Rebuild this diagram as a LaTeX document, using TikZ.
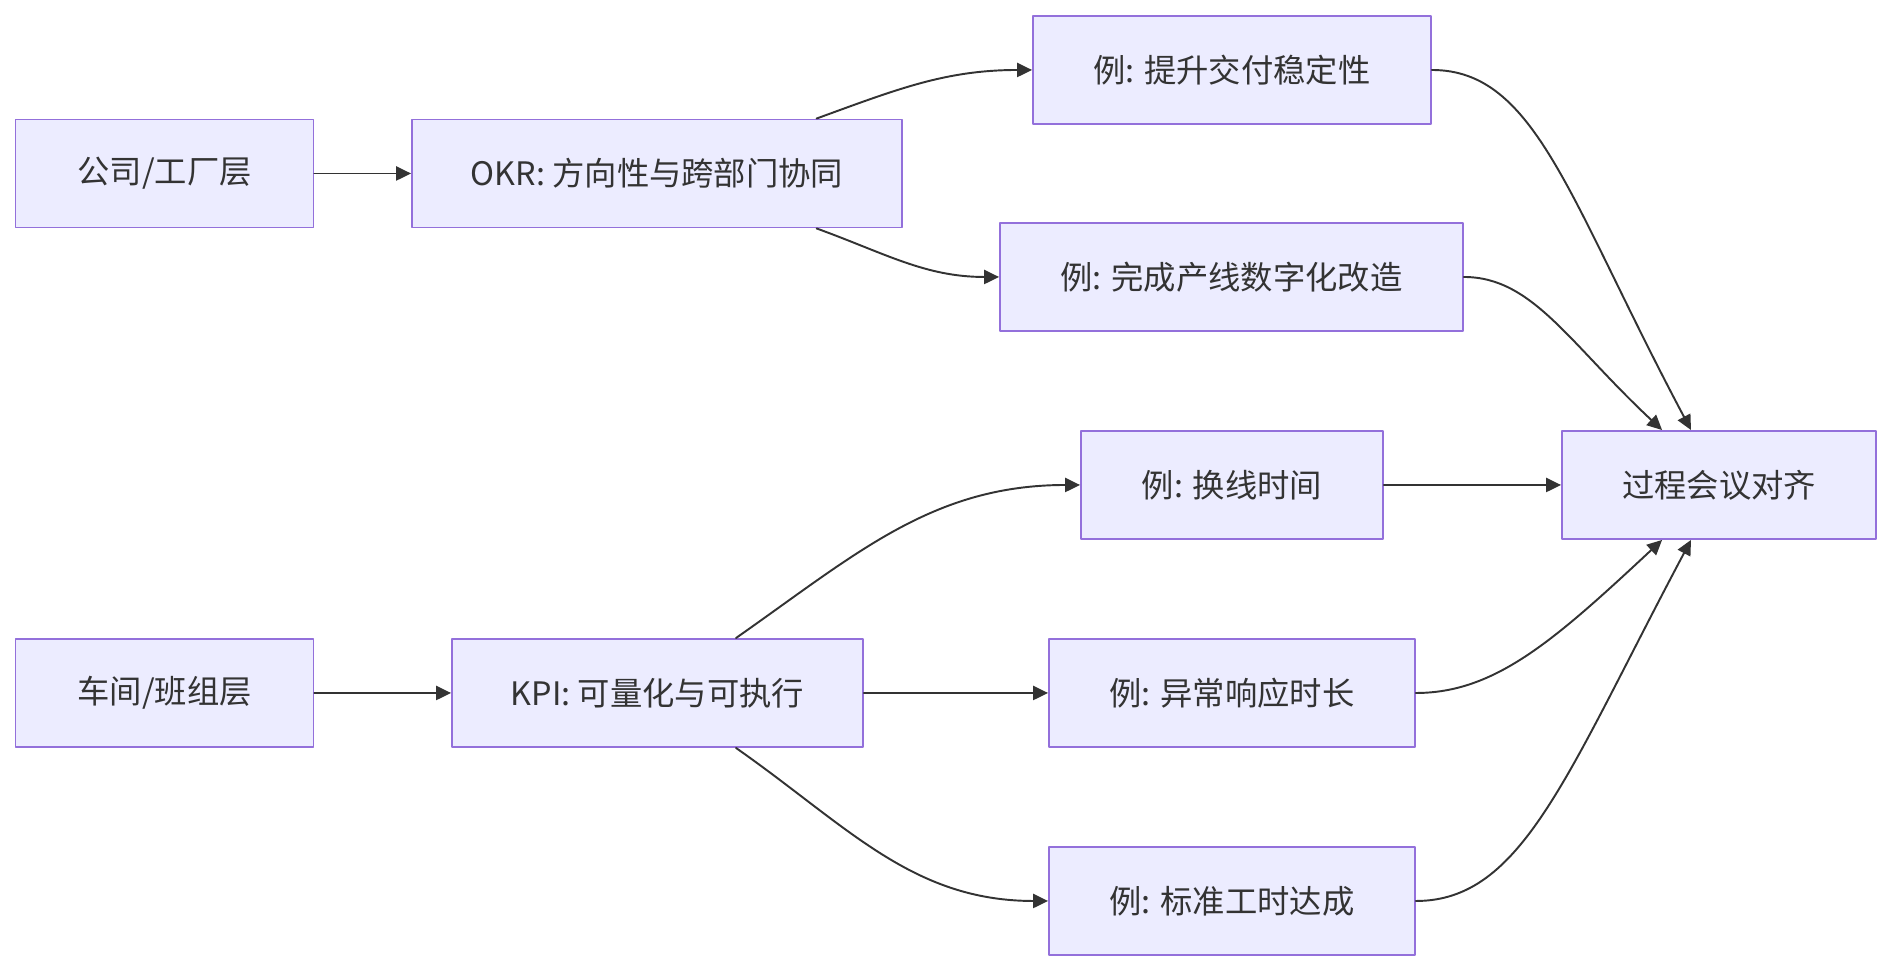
\documentclass[tikz,border=0pt]{standalone}
\usepackage{fontspec}
\setmainfont{Noto Sans CJK SC}
\usepackage{xcolor}
\usetikzlibrary{arrows.meta,positioning}
\definecolor{flFill}{HTML}{ECECFF}
\definecolor{flStroke}{HTML}{9370DB}
\definecolor{flInk}{HTML}{333333}
\tikzset{
  fl diagram/.style={font=\fontsize{18.4pt}{22pt}\selectfont, text=flInk,
    line cap=round, line join=round},
  fl box/.style={draw=flStroke, fill=flFill, line width=1.1pt,
    minimum height=2.16cm, align=center, inner sep=0pt},
  fl arrow/.style={-{Triangle[length=8.5pt,width=8pt]}, draw=flInk, line width=1.1pt}
}

\begin{document}
\begin{tikzpicture}[fl diagram,x=0.02cm,y=0.02cm]
\useasboundingbox (0,0) rectangle (1890,972);
% upper layer
\node[fl box,minimum width=5.96cm] (company) at (164.5,798.5) {公司/工厂层};
\node[fl box,minimum width=9.8cm] (okr) at (657,798.5) {OKR: 方向性与跨部门协同};
\node[fl box,minimum width=7.96cm] (exA) at (1232,902) {例: 提升交付稳定性};
\node[fl box,minimum width=9.26cm] (exB) at (1231.5,695) {例: 完成产线数字化改造};
% lower layer
\node[fl box,minimum width=5.96cm] (shop) at (164.5,279) {车间/班组层};
\node[fl box,minimum width=8.22cm] (kpi) at (657.5,279) {KPI: 可量化与可执行};
\node[fl box,minimum width=6.04cm] (exC) at (1232,487) {例: 换线时间};
\node[fl box,minimum width=7.32cm] (exD) at (1232,279) {例: 异常响应时长};
\node[fl box,minimum width=7.32cm] (exE) at (1232,71) {例: 标准工时达成};
\node[fl box,minimum width=6.28cm] (align) at (1719,487) {过程会议对齐};

\draw[fl arrow] (company) -- (okr);
\draw[fl arrow] (okr.19.5) to[out=20,in=180] (exA.west);
\draw[fl arrow] (okr.-19.5) to[out=-20,in=180] (exB.west);
\draw[fl arrow] (shop) -- (kpi);
\draw[fl arrow] (kpi.35.2) to[out=35,in=180] (exC.west);
\draw[fl arrow] (kpi) -- (exD);
\draw[fl arrow] (kpi.-35.2) to[out=-35,in=180] (exE.west);
\draw[fl arrow] (exA.east) to[out=0,in=118,out looseness=0.6,in looseness=1.5] (align.117.4);
\draw[fl arrow] (exB.east) to[out=0,in=137,out looseness=0.7,in looseness=1.3] (align.136);
\draw[fl arrow] (exC) -- (align);
\draw[fl arrow] (exD.east) to[out=0,in=-137,out looseness=0.7,in looseness=1.3] (align.-136);
\draw[fl arrow] (exE.east) to[out=0,in=-118,out looseness=0.6,in looseness=1.5] (align.-117.4);
\end{tikzpicture}
\end{document}
